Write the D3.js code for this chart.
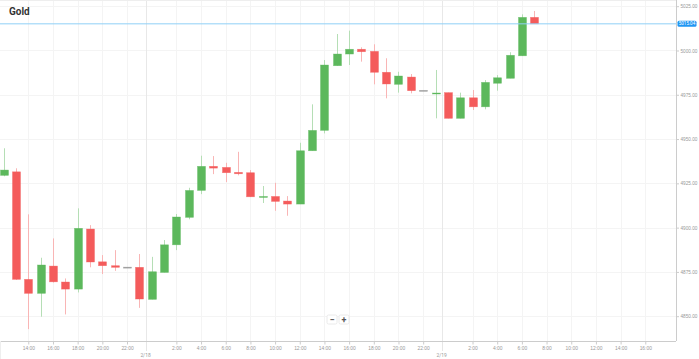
<!DOCTYPE html>
<html>
<head>
<meta charset="utf-8">
<script src="https://cdn.jsdelivr.net/npm/d3@7/dist/d3.min.js"></script>
<style>
  html, body { margin: 0; padding: 0; background: #fff; }
  svg { display: block; font-family: Roboto, "Noto Sans", sans-serif; }
</style>
</head>
<body>
<svg id="chart" width="699" height="359"></svg>
<script>
// Hours since 2/17 00:00
const hours = [12,13,14,15,16,17,18,19,20,21,22,23,24,25,26,27,28,29,30,31,32,33,34,35,36,37,38,39,40,41,42,43,44,45,46,47,48,49,50,51,52,53,54,55];
const opens  = [4929.5,4931.5,4870.8,4862.9,4878.3,4869.3,4865.3,4899.2,4880.7,4878.5,4877.7,4877.6,4859.5,4874.7,4890.3,4905.8,4921.0,4934.6,4934.0,4931.2,4931.0,4917.4,4917.6,4915.0,4913.3,4943.4,4954.9,4991.4,4998.0,5000.7,4999.5,4987.7,4980.9,4985.0,4977.5,4975.8,4976.2,4961.7,4973.3,4968.2,4981.5,4984.3,4997.0,5018.7];
const highs  = [4944.8,4933.5,4907.5,4883.0,4893.9,4871.3,4910.9,4901.4,4884.5,4887.3,4877.7,4885.1,4883.5,4893.0,4907.7,4922.5,4940.6,4940.4,4936.6,4942.8,4932.5,4923.5,4925.3,4917.8,4947.9,4969.6,4994.6,5009.3,5011.2,5001.8,5003.5,4995.6,4988.0,4986.7,4977.5,4989.0,4976.2,4976.2,4977.7,4983.3,4986.1,4999.0,5020.4,5022.3];
const lows   = [4929.0,4870.5,4842.7,4849.7,4869.0,4851.0,4863.4,4877.6,4873.8,4875.6,4877.7,4854.7,4859.5,4874.7,4887.3,4904.7,4918.9,4930.2,4925.7,4929.5,4917.4,4913.9,4909.5,4906.7,4913.3,4943.4,4953.2,4991.4,4991.8,4993.7,4980.9,4973.0,4976.2,4975.8,4977.5,4961.7,4961.7,4961.7,4966.4,4966.8,4977.3,4984.3,4997.0,5015.04];
const closes = [4932.5,4870.8,4862.9,4878.9,4869.4,4865.3,4899.6,4880.6,4878.5,4877.6,4877.7,4859.7,4875.1,4890.3,4906.0,4921.0,4934.6,4933.6,4931.0,4930.4,4917.4,4917.6,4914.8,4913.3,4943.4,4954.9,4991.8,4998.0,5000.7,4999.3,4987.7,4981.1,4985.6,4977.3,4977.5,4976.0,4961.7,4973.3,4968.2,4982.0,4984.6,4997.3,5018.7,5015.04];

const xTickHours  = [14,16,18,20,22,26,28,30,32,34,36,38,40,42,44,46,50,52,54,56,58,60,62,64];
const xTickLabels = ["14:00","16:00","18:00","20:00","22:00","2:00","4:00","6:00","8:00","10:00","12:00","14:00","16:00","18:00","20:00","22:00","2:00","4:00","6:00","8:00","10:00","12:00","14:00","16:00"];
const dateHours  = [23.5, 47.5];
const dateLabels = ["2/18", "2/19"];
const yTicks = [4850, 4875, 4900, 4925, 4950, 4975, 5000, 5025];
const lastPrice = 5015.04;
const title = "Gold";

const svg = d3.select("#chart");
const plotW = 676, plotH = 341;

const x = d3.scaleLinear().domain([11.707, 66.49]).range([0, plotW]);
const y = d3.scaleLinear().domain([4836.0, 5028.5]).range([plotH, 0]);

// grid
const grid = svg.append("g");
grid.selectAll("line.h").data(yTicks).join("line")
  .attr("x1", 0).attr("x2", plotW)
  .attr("y1", d => Math.round(y(d)) + 0.5).attr("y2", d => Math.round(y(d)) + 0.5)
  .attr("stroke", "#f4f4f4");
grid.selectAll("line.v").data(xTickHours).join("line")
  .attr("x1", d => Math.round(x(d)) + 0.5).attr("x2", d => Math.round(x(d)) + 0.5)
  .attr("y1", 0).attr("y2", plotH)
  .attr("stroke", "#f4f4f4");
grid.selectAll("line.d").data(dateHours).join("line")
  .attr("x1", d => Math.round(x(d)) + 0.5).attr("x2", d => Math.round(x(d)) + 0.5)
  .attr("y1", 0).attr("y2", plotH)
  .attr("stroke", "#e8e8e8");
svg.append("line").attr("x1", 0).attr("x2", plotW).attr("y1", 0.5).attr("y2", 0.5).attr("stroke", "#eeeeee");

// candles
const data = hours.map((h, i) => ({h, o: opens[i], hi: highs[i], lo: lows[i], c: closes[i]}));
const green = "#5cb85c", red = "#f45b5b", gray = "#999999";
const col = d => d.c > d.o ? green : (d.c < d.o ? red : gray);
const wickCol = d => d.c > d.o ? "#b5deb5" : (d.c < d.o ? "#f9b5b5" : "#bbbbbb");
const bw = 8;
const cg = svg.append("g");
cg.selectAll("line.wick").data(data).join("line")
  .attr("x1", d => Math.round(x(d.h)) + 0.5).attr("x2", d => Math.round(x(d.h)) + 0.5)
  .attr("y1", d => y(d.hi)).attr("y2", d => y(d.lo))
  .attr("stroke", wickCol).attr("stroke-width", 1);
cg.selectAll("rect.body").data(data).join("rect")
  .attr("x", d => Math.round(x(d.h)) - bw / 2 + 0.5)
  .attr("y", d => y(Math.max(d.o, d.c)))
  .attr("width", bw)
  .attr("height", d => Math.max(1, Math.abs(y(d.o) - y(d.c))))
  .attr("fill", col).attr("stroke", col).attr("stroke-opacity", 0.6).attr("stroke-width", 0.6);

// last price line
svg.append("line").attr("x1", 0).attr("x2", plotW)
  .attr("y1", y(lastPrice)).attr("y2", y(lastPrice))
  .attr("stroke", "#8fd0f7").attr("stroke-width", 1);

// axes
const yAxis = d3.axisRight(y).tickValues(yTicks).tickSize(2.5).tickPadding(1.5).tickFormat(d3.format(".2f"));
const gy = svg.append("g").attr("transform", `translate(${plotW + 0.5},0)`).call(yAxis);
gy.select(".domain").attr("stroke", "#cccccc").attr("d", `M0,0V${plotH}`);
gy.selectAll(".tick line").attr("stroke", "#cccccc");
gy.selectAll(".tick text").attr("fill", "#999").style("font-size", "4.7px");

const xAxis = d3.axisBottom(x).tickValues(xTickHours).tickSize(3).tickPadding(2)
  .tickFormat((d, i) => xTickLabels[i]);
const gx = svg.append("g").attr("transform", `translate(0,${plotH + 0.5})`).call(xAxis);
gx.select(".domain").attr("stroke", "#cccccc").attr("d", `M0,0H${plotW}`);
gx.selectAll(".tick line").attr("stroke", "#cccccc");
gx.selectAll(".tick text").attr("fill", "#999").style("font-size", "4.9px");

const gd = svg.append("g").attr("transform", `translate(0,${plotH + 0.5})`);
gd.selectAll("line").data(dateHours).join("line")
  .attr("x1", d => Math.round(x(d)) + 0.5).attr("x2", d => Math.round(x(d)) + 0.5)
  .attr("y1", 0).attr("y2", 10)
  .attr("stroke", "#cccccc").attr("stroke-dasharray", "1,1");
gd.selectAll("text").data(dateHours).join("text")
  .attr("x", d => x(d)).attr("y", 15.5)
  .attr("text-anchor", "middle").attr("fill", "#999").style("font-size", "4.9px")
  .text((d, i) => dateLabels[i]);
svg.append("line").attr("x1", 0.5).attr("x2", 0.5).attr("y1", plotH).attr("y2", 359).attr("stroke", "#eeeeee");

// price label
const ly = y(lastPrice);
svg.append("rect").attr("x", 677.5).attr("y", ly - 3).attr("width", 19).attr("height", 6)
  .attr("rx", 1.5).attr("fill", "#2196f3");
svg.append("text").attr("x", 687).attr("y", ly).attr("dy", "0.35em")
  .attr("text-anchor", "middle").attr("fill", "#fff").style("font-size", "4.5px")
  .text(d3.format(".2f")(lastPrice));

// title
svg.append("text").attr("x", 9).attr("y", 14.5).attr("fill", "#333")
  .style("font-size", "10px").style("font-weight", "bold").text(title);

// zoom buttons
const zb = svg.append("g").attr("transform", "translate(327,315)");
[["−", 0], ["+", 12]].forEach(([t, dx]) => {
  zb.append("rect").attr("x", dx).attr("y", 0).attr("width", 10).attr("height", 9).attr("rx", 1.5)
    .attr("fill", "#fff").attr("stroke", "#e4e4e4").attr("stroke-width", 0.8);
  zb.append("text").attr("x", dx + 5).attr("y", 4.5).attr("dy", "0.35em")
    .attr("text-anchor", "middle").attr("fill", "#555").style("font-size", "9px").style("font-weight", "bold").text(t);
});
</script>
</body>
</html>
